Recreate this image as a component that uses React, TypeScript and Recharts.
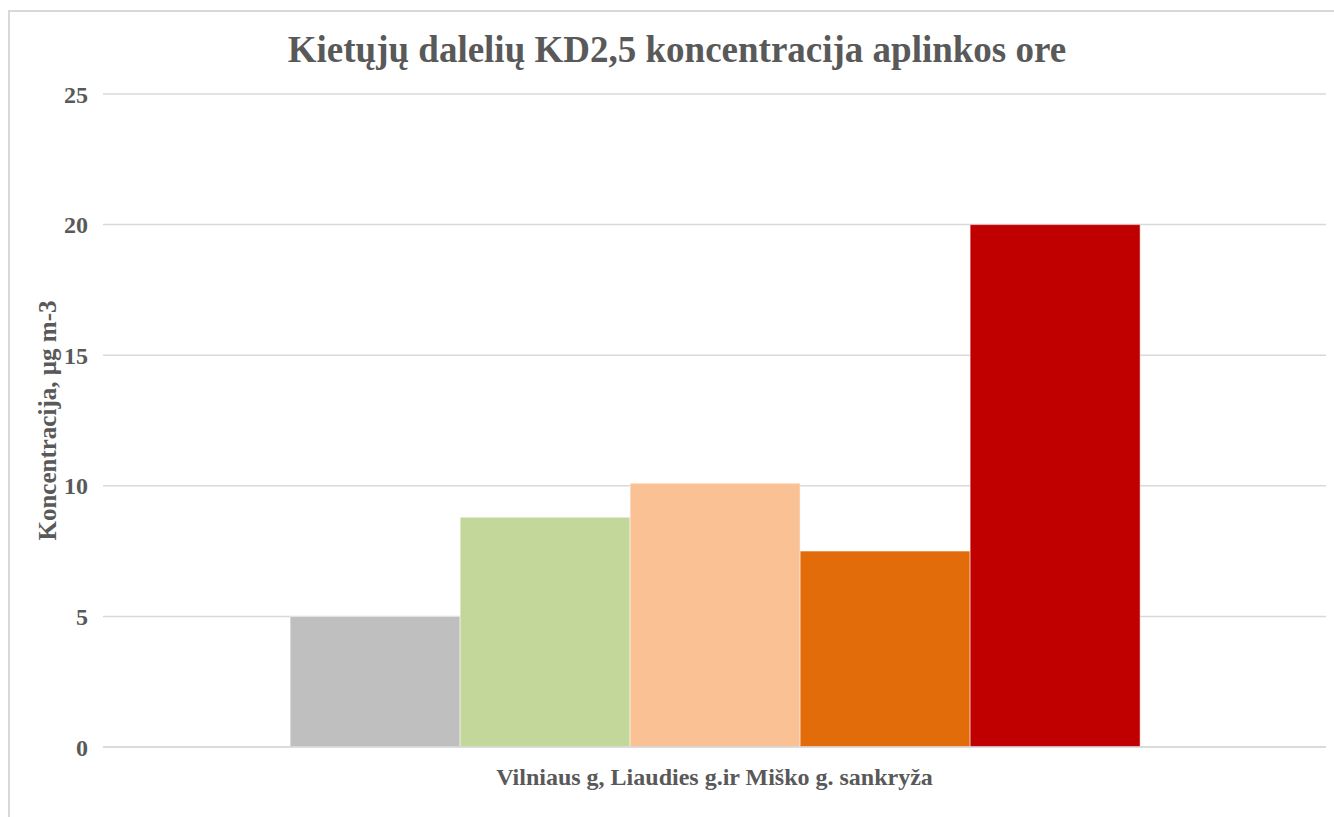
import { BarChart, Bar, XAxis, YAxis, CartesianGrid } from "recharts";

const categories = ["Vilniaus g, Liaudies g.ir Miško g. sankryža"];
const seriesKeys = ["s1", "s2", "s3", "s4", "s5"];
const seriesValues = [5, 8.8, 10.1, 7.5, 20];
const seriesColors = ["#BFBFBF", "#C4D79B", "#F9C194", "#E26B0A", "#C00000"];
const yTicks = [0, 5, 10, 15, 20, 25];

const data = categories.map((name) => {
    const row: Record<string, string | number> = { name };
    seriesKeys.forEach((k, i) => {
        row[k] = seriesValues[i];
    });
    return row;
});

const font = "'Liberation Serif', 'Times New Roman', serif";
const textColor = "#595959";

const YLabel = (props: any) => {
    const { viewBox } = props;
    const cy = viewBox.y + viewBox.height / 2;
    const cx = 39;
    return (
        <text
            x={cx}
            y={cy}
            transform={`rotate(-90, ${cx}, ${cy})`}
            textAnchor="middle"
            dominantBaseline="central"
            fill={textColor}
            fontFamily={font}
            fontWeight="bold"
            fontSize={25}
        >
            Koncentracija, µg m-3
        </text>
    );
};

export default function App() {
    return (
        <div style={{ position: "absolute", left: 0, top: 0, width: 1334, height: 817, overflow: "hidden", background: "#fff" }}>
            <div
                style={{
                    position: "absolute",
                    left: 8,
                    top: 10,
                    width: 1340,
                    height: 820,
                    borderTop: "2px solid #d9d9d9",
                    borderLeft: "2px solid #d9d9d9",
                    boxSizing: "border-box",
                }}
            />
            <div
                style={{
                    position: "absolute",
                    left: 8,
                    top: 31,
                    width: 1338,
                    textAlign: "center",
                    fontFamily: font,
                    fontWeight: "bold",
                    fontSize: 37,
                    lineHeight: "37px",
                    color: textColor,
                }}
            >
                Kietųjų dalelių KD2,5 koncentracija aplinkos ore
            </div>
            <div style={{ position: "absolute", left: 8, top: 10 }}>
                <BarChart
                    width={1326}
                    height={807}
                    data={data}
                    margin={{ top: 84, right: 8, bottom: 10, left: 0 }}
                    barGap={0}
                    barCategoryGap="15.3%"
                >
                    <CartesianGrid vertical={false} stroke="#d9d9d9" strokeWidth={1.5} />
                    <XAxis
                        dataKey="name"
                        height={60}
                        axisLine={{ stroke: "#d9d9d9", strokeWidth: 1.5 }}
                        tickLine={false}
                        tickSize={0}
                        tickMargin={21}
                        tick={{ fill: textColor, fontFamily: font, fontWeight: "bold", fontSize: 24 }}
                    />
                    <YAxis
                        width={95}
                        domain={[0, 25]}
                        ticks={yTicks}
                        axisLine={false}
                        tickLine={false}
                        tickSize={0}
                        tickMargin={15}
                        tick={{ fill: textColor, fontFamily: font, fontWeight: "bold", fontSize: 24 }}
                        label={<YLabel />}
                    />
                    {seriesKeys.map((k, i) => (
                        <Bar
                            key={k}
                            dataKey={k}
                            fill={seriesColors[i]}
                            stroke="#ffffff"
                            strokeWidth={0.5}
                            isAnimationActive={false}
                        />
                    ))}
                </BarChart>
            </div>
        </div>
    );
}
